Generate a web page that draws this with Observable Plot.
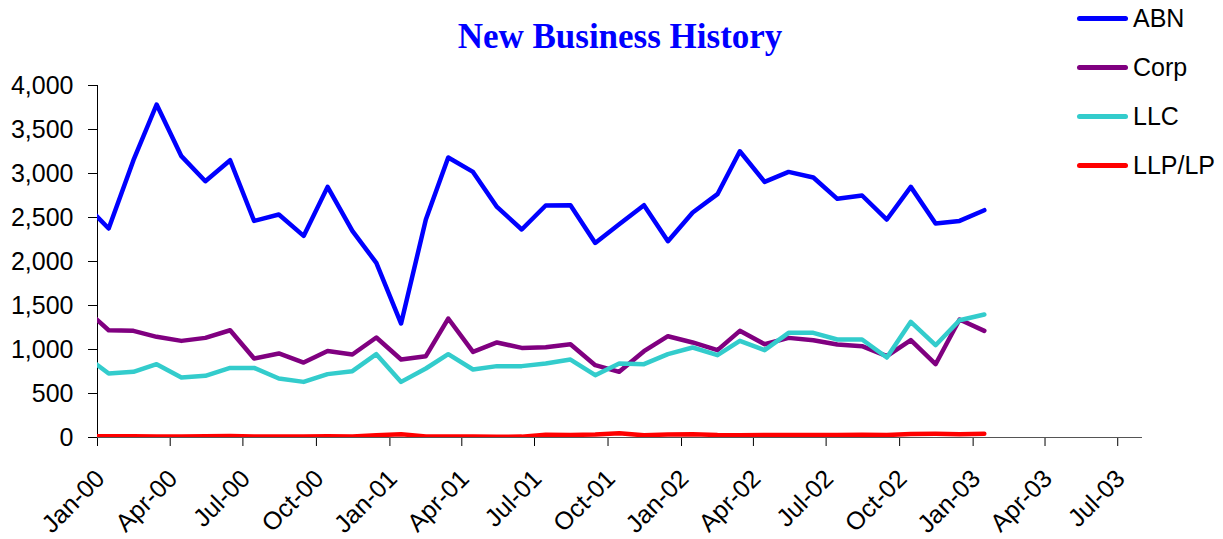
<!DOCTYPE html>
<html>
<head>
<meta charset="utf-8">
<script src="https://cdn.jsdelivr.net/npm/d3@7"></script>
<script src="https://cdn.jsdelivr.net/npm/@observablehq/plot@0.6"></script>
<style>
  html, body { margin: 0; padding: 0; background: #fff; }
  #wrap { position: relative; width: 1223px; height: 539px; overflow: hidden; }
  #title { position: absolute; left: 0; width: 1240px; top: 17px; text-align: center;
    font-family: "Liberation Serif", "Times New Roman", serif; font-weight: bold; font-size: 35px; color: #0000FF; }
  #legend { position: absolute; left: 1077px; top: 0; font-family: "Liberation Sans", Arial, sans-serif; font-size: 25px; }
  .item { position: absolute; left: 0; height: 30px; display: flex; align-items: center; white-space: nowrap; }
  .swatch { width: 51px; height: 5px; border-radius: 3px; margin-right: 5px; }
  #chart { position: absolute; left: 0; top: 0; }
</style>
</head>
<body>
<div id="wrap">
  <div id="chart"></div>
  <div id="title">New Business History</div>
  <div id="legend"></div>
</div>
<script>
const months = ["1999-12",
  "2000-01","2000-02","2000-03","2000-04","2000-05","2000-06","2000-07","2000-08","2000-09","2000-10","2000-11","2000-12",
  "2001-01","2001-02","2001-03","2001-04","2001-05","2001-06","2001-07","2001-08","2001-09","2001-10","2001-11","2001-12",
  "2002-01","2002-02","2002-03","2002-04","2002-05","2002-06","2002-07","2002-08","2002-09","2002-10","2002-11","2002-12",
  "2003-01"];
const abn = [2666, 2375, 3151, 3784, 3197, 2912, 3151, 2461, 2534, 2291, 2848, 2348, 1984,
  1295, 2477, 3182, 3018, 2620, 2364, 2636, 2640, 2211, 2424, 2640, 2231,
  2557, 2765, 3253, 2905, 3018, 2955, 2712, 2750, 2477, 2848, 2432, 2461, 2583];
const corp = [1471, 1219, 1212, 1144, 1098, 1132, 1219, 898, 955, 852, 984, 943, 1136,
  886, 924, 1352, 973, 1080, 1018, 1026, 1060, 822, 746, 981, 1151,
  1080, 993, 1212, 1060, 1132, 1106, 1057, 1038, 924, 1106, 833, 1341, 1212];
const llc = [938, 727, 746, 833, 682, 701, 791, 791, 670, 632, 720, 754, 947,
  632, 784, 947, 773, 811, 811, 841, 886, 708, 841, 833, 947,
  1023, 936, 1098, 993, 1189, 1189, 1114, 1114, 909, 1314, 1049, 1333, 1398];
const llp = [15, 15, 14, 12, 12, 14, 16, 12, 11, 10, 14, 12, 25,
  38, 12, 10, 10, 8, 10, 30, 28, 35, 48, 25, 35,
  38, 28, 25, 28, 28, 28, 28, 30, 28, 40, 42, 38, 42];
const seriesNames = ["ABN", "Corp", "LLC", "LLP/LP"];
const seriesColors = ["#0000FF", "#800080", "#33CCCC", "#FF0000"];
const tickDates = ["2000-01-01","2000-04-01","2000-07-01","2000-10-01",
  "2001-01-01","2001-04-01","2001-07-01","2001-10-01",
  "2002-01-01","2002-04-01","2002-07-01","2002-10-01",
  "2003-01-01","2003-04-01","2003-07-01"];
const yTicks = [0, 500, 1000, 1500, 2000, 2500, 3000, 3500, 4000];
const xDomain = ["2000-01-01", "2003-08-01"];

const valueSets = [abn, corp, llc, llp];
const data = [];
seriesNames.forEach((s, i) => {
  months.forEach((m, j) => data.push({series: s, date: new Date(m + "-15T00:00:00Z"), value: valueSets[i][j]}));
});
const fmt = d3.utcFormat("%b-%y");
const xTicks = tickDates.map(d => new Date(d + "T00:00:00Z"));

const chart = Plot.plot({
  width: 1223,
  height: 539,
  marginLeft: 97,
  marginRight: 81,
  marginTop: 85,
  marginBottom: 102,
  style: {fontFamily: "'Liberation Sans', Arial, sans-serif", fontSize: "25px", color: "#000", background: "transparent"},
  x: {type: "utc", domain: xDomain.map(d => new Date(d + "T00:00:00Z"))},
  y: {domain: [0, 4000]},
  color: {domain: seriesNames, range: seriesColors},
  marks: [
    Plot.axisY({ticks: yTicks, tickSize: 9, tickPadding: 15, tickFormat: d3.format(","), label: null, stroke: "#000"}),
    Plot.axisX({ticks: xTicks, tickSize: 9, tickFormat: () => "", label: null, stroke: "#000"}),
    Plot.axisX({ticks: xTicks, tickSize: 0, tickPadding: 37, dx: 3,
      tickRotate: -45, tickFormat: fmt, label: null}),
    Plot.ruleX([new Date(xDomain[0] + "T00:00:00Z")], {stroke: "#000"}),
    Plot.ruleY([0], {stroke: "#555", strokeWidth: 1.2}),
    Plot.lineY(data, {x: "date", y: "value", z: "series", stroke: "series", strokeWidth: 4.5,
      strokeLinejoin: "round", strokeLinecap: "round", clip: true})
  ]
});
document.getElementById("chart").appendChild(chart);

const legend = document.getElementById("legend");
const legendTops = [3, 52, 101, 150];
seriesNames.forEach((s, i) => {
  const it = document.createElement("div");
  it.className = "item";
  it.style.top = legendTops[i] + "px";
  const sw = document.createElement("div");
  sw.className = "swatch";
  sw.style.background = seriesColors[i];
  const tx = document.createElement("span");
  tx.textContent = s;
  it.appendChild(sw); it.appendChild(tx);
  legend.appendChild(it);
});
</script>
</body>
</html>
